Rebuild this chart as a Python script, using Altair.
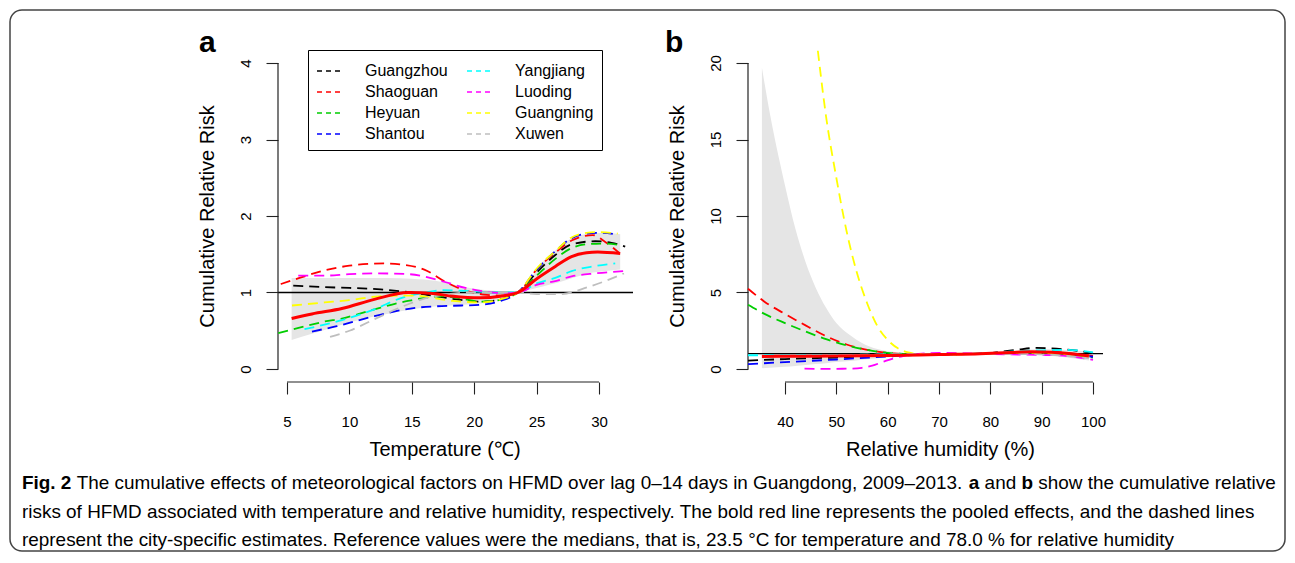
import altair as alt
import pandas as pd

FONT = "Liberation Sans"

CITIES = ["Guangzhou", "Shaoguan", "Heyuan", "Shantou", "Yangjiang", "Luoding", "Guangning", "Xuwen"]
CITY_COLORS = ["#000000", "#FF0000", "#00CD00", "#0000FF", "#00FFFF", "#FF00FF", "#FFFF00", "#BEBEBE"]

# ---------------- panel a : temperature ----------------
TEMP_TICKS = [5, 10, 15, 20, 25, 30]
RR_TICKS_A = [0, 1, 2, 3, 4]

a_guangzhou_t = [5.5, 8, 10, 12.5, 15, 17, 18.6, 20.5, 22.1, 23.5, 25, 26.5, 27.8, 29.7, 31, 32.1]
a_guangzhou_rr = [1.09, 1.07, 1.06, 1.04, 1.0, 0.95, 0.91, 0.88, 0.91, 1.0, 1.26, 1.49, 1.63, 1.67, 1.65, 1.60]
a_shaoguan_t = [4.5, 6, 8, 10, 12.8, 14.5, 16, 17.8, 19.4, 21, 22.5, 23.5, 25, 26.5, 27.8, 29.5, 30.5, 31.6]
a_shaoguan_rr = [1.11, 1.19, 1.29, 1.35, 1.38, 1.36, 1.30, 1.13, 1.02, 0.97, 0.96, 1.0, 1.30, 1.52, 1.68, 1.75, 1.66, 1.52]
a_heyuan_t = [4.3, 6, 8, 9.4, 12, 14.7, 17.4, 19, 20.5, 22, 23.5, 25, 26.5, 27.8, 29, 30.4, 31.7]
a_heyuan_rr = [0.47, 0.54, 0.62, 0.66, 0.78, 0.89, 0.95, 0.92, 0.88, 0.90, 1.0, 1.22, 1.44, 1.58, 1.63, 1.64, 1.62]
a_shantou_t = [7.0, 9, 12, 15.3, 17, 19, 20.5, 22.1, 23.5, 25, 26.5, 27.8, 29, 30, 31.5]
a_shantou_rr = [0.49, 0.56, 0.69, 0.80, 0.82, 0.83, 0.84, 0.89, 1.0, 1.30, 1.54, 1.71, 1.77, 1.78, 1.76]
a_yangjiang_t = [6.4, 8, 9.4, 12, 14.2, 16.1, 17.5, 19.5, 21.5, 23.5, 25, 26.5, 27.8, 29.5, 31.3]
a_yangjiang_rr = [0.52, 0.58, 0.64, 0.78, 0.93, 1.0, 1.03, 1.02, 1.0, 1.0, 1.12, 1.19, 1.28, 1.34, 1.38]
a_luoding_t = [5.9, 8, 10, 12, 14.7, 17.4, 19.3, 21, 22.5, 23.5, 25, 26.5, 27.8, 29.7, 32.0]
a_luoding_rr = [1.22, 1.22, 1.24, 1.25, 1.24, 1.15, 1.06, 1.01, 0.99, 1.0, 1.10, 1.15, 1.21, 1.25, 1.28]
a_guangning_t = [5.4, 8, 10, 12.4, 15, 18.3, 20.5, 22.1, 23.5, 25.1, 26.5, 27.8, 29, 30, 31.5]
a_guangning_rr = [0.83, 0.87, 0.90, 0.95, 0.96, 0.89, 0.87, 0.91, 1.0, 1.33, 1.54, 1.72, 1.78, 1.79, 1.77]
a_xuwen_t = [8.45, 10, 12, 14, 15.8, 17.5, 19.5, 21.5, 23.5, 25, 27, 29.1, 30.5, 32]
a_xuwen_rr = [0.42, 0.50, 0.65, 0.80, 0.91, 0.97, 1.0, 1.0, 1.0, 0.98, 0.98, 1.07, 1.15, 1.25]

a_pooled_t = [5.37, 7, 9.4, 12, 14.7, 16.5, 18.3, 20.5, 22.1, 23.5, 25.1, 26.5, 27.8, 29, 29.9, 31.7]
a_pooled_rr = [0.66, 0.72, 0.79, 0.91, 1.0, 0.99, 0.95, 0.93, 0.95, 1.0, 1.19, 1.34, 1.47, 1.52, 1.53, 1.51]

a_band_t = [5.37, 7, 9, 11, 13, 15, 17, 19, 21, 22.5, 23.5, 24.5, 25.5, 26.5, 27.5, 28.5, 29.5, 30.5, 31.7]
a_band_lo = [0.38, 0.46, 0.56, 0.65, 0.72, 0.78, 0.82, 0.84, 0.87, 0.93, 1.0, 1.04, 1.08, 1.12, 1.17, 1.22, 1.26, 1.28, 1.30]
a_band_hi = [1.19, 1.19, 1.19, 1.19, 1.19, 1.18, 1.15, 1.08, 1.03, 1.01, 1.0, 1.18, 1.40, 1.55, 1.68, 1.75, 1.77, 1.78, 1.76]

# ---------------- panel b : relative humidity ----------------
HUM_TICKS = [40, 50, 60, 70, 80, 90, 100]
RR_TICKS_B = [0, 5, 10, 15, 20]

b_guangzhou_h = [32.8, 40, 50, 60, 70, 78, 85, 89, 94, 100]
b_guangzhou_rr = [0.55, 0.65, 0.75, 0.88, 0.97, 1.0, 1.25, 1.38, 1.3, 1.05]
b_shaoguan_h = [32.8, 36, 40, 44, 48, 52, 56, 60, 65, 70, 78, 85, 90, 95, 100]
b_shaoguan_rr = [5.25, 4.4, 3.6, 2.85, 2.15, 1.6, 1.25, 1.05, 0.97, 0.95, 1.0, 1.12, 1.18, 1.05, 0.85]
b_heyuan_h = [32.8, 36, 40, 44, 48, 52, 56, 60, 65, 70, 78, 85, 90, 95, 100]
b_heyuan_rr = [4.2, 3.6, 3.0, 2.45, 1.95, 1.55, 1.25, 1.05, 0.97, 0.95, 1.0, 1.05, 1.05, 0.95, 0.75]
b_shantou_h = [32.8, 40, 50, 60, 70, 78, 85, 90, 95, 100]
b_shantou_rr = [0.32, 0.45, 0.62, 0.82, 0.97, 1.0, 1.1, 1.12, 1.0, 0.8]
b_yangjiang_h = [32.8, 40, 50, 60, 70, 78, 85, 90, 95, 100]
b_yangjiang_rr = [0.9, 0.9, 0.92, 0.95, 0.98, 1.0, 1.15, 1.22, 1.25, 1.08]
b_luoding_h = [43.8, 48, 52, 55, 57, 59.2, 61, 63, 66, 70, 74, 78, 84, 90, 95, 100]
b_luoding_rr = [0.02, 0.01, 0.02, 0.08, 0.22, 0.48, 0.68, 0.85, 0.98, 1.05, 1.04, 1.0, 0.95, 0.92, 0.85, 0.6]
b_guangning_h = [46.4, 48, 50, 52, 54, 56, 58, 60, 62, 64, 66, 70, 78, 85, 90, 95, 100]
b_guangning_rr = [20.8, 16.5, 12.5, 9.0, 6.3, 4.3, 2.8, 1.9, 1.35, 1.08, 0.98, 0.93, 1.0, 1.05, 1.05, 0.95, 0.8]
b_xuwen_h = [35.6, 50, 60, 70, 78, 85, 90, 95, 99.2]
b_xuwen_rr = [0.85, 0.9, 0.95, 0.98, 1.0, 1.0, 0.95, 0.85, 0.7]

b_pooled_h = [35.5, 40, 50, 60, 70, 78, 84, 88, 92, 96, 99.2]
b_pooled_rr = [0.82, 0.83, 0.85, 0.88, 0.95, 1.0, 1.08, 1.12, 1.1, 0.98, 0.85]

b_band_h = [35.5, 37, 40, 42, 44, 46, 48, 50, 52.7, 55, 58, 62, 66, 70, 78, 85, 90, 95, 99.2]
b_band_lo = [0.05, 0.08, 0.15, 0.2, 0.26, 0.32, 0.38, 0.45, 0.52, 0.6, 0.7, 0.82, 0.9, 0.95, 1.0, 0.95, 0.9, 0.75, 0.55]
b_band_hi = [19.7, 16.8, 12.0, 9.2, 7.0, 5.3, 4.0, 3.0, 2.2, 1.7, 1.3, 1.08, 1.02, 1.02, 1.0, 1.2, 1.3, 1.25, 1.15]

CAPTION = [
    [("Fig. 2", True),
     (" The cumulative effects of meteorological factors on HFMD over lag 0\u201314 days in Guangdong, 2009\u20132013. ", False),
     ("a", True), (" and ", False), ("b", True), (" show the cumulative relative", False)],
    [("risks of HFMD associated with temperature and relative humidity, respectively. The bold red line represents the pooled effects, and the dashed lines", False)],
    [("represent the city-specific estimates. Reference values were the medians, that is, 23.5 \u00b0C for temperature and 78.0 % for relative humidity", False)],
]

# ---------------- layout (pixels inside the 1279x547 canvas) ----------------
W, H = 1279, 547
PA_X = [270, 625]
PB_X = [740, 1095]
P_Y = [374, 42]
XA_DOM = [5 - 9 / 12.48, 5 + 346 / 12.48]
YA_DOM = [-13 / 76.5, 4 + 13 / 76.5]
XB_DOM = [40 - 37 / 5.1333, 100 + 10 / 5.1333]
YB_DOM = [-13 / 15.3, 20 + 13 / 15.3]

sxa = alt.Scale(domain=XA_DOM, range=PA_X, zero=False, nice=False)
sya = alt.Scale(domain=YA_DOM, range=P_Y, zero=False, nice=False)
sxb = alt.Scale(domain=XB_DOM, range=PB_X, zero=False, nice=False)
syb = alt.Scale(domain=YB_DOM, range=P_Y, zero=False, nice=False)

common_axis = dict(domain=False, grid=False, ticks=True, tickSize=12, tickColor="#222222", tickWidth=1.1,
                   labelFont=FONT, labelFontSize=15, labelColor="black", labelFlush=False, labelOverlap=False,
                   titleFont=FONT, titleFontSize=20, titleFontWeight="normal", titleColor="black", format="d")

def x_axis(values, title, title_x):
    return alt.Axis(orient="bottom", offset=-(H - P_Y[0]), values=values, labelPadding=20, labelBaseline="top",
                    title=title, titleX=title_x, titleY=73, titleAlign="center", titleBaseline="alphabetic",
                    **common_axis)

def y_axis(values, x_pos):
    return alt.Axis(orient="left", offset=-x_pos, values=values, labelAngle=-90, labelAlign="center",
                    labelBaseline="alphabetic", labelPadding=16, title="Cumulative Relative Risk",
                    titleX=-65, titleY=(P_Y[0] + P_Y[1]) / 2, titleAngle=-90, titleAlign="center",
                    titleBaseline="alphabetic", **common_axis)

axa_x = x_axis(TEMP_TICKS, "Temperature (\u2103)", 436.5)
axa_y = y_axis(RR_TICKS_A, PA_X[0])
axb_x = x_axis(HUM_TICKS, "Relative humidity (%)", 932)
axb_y = y_axis(RR_TICKS_B, PB_X[0])

color_scale = alt.Scale(domain=CITIES, range=CITY_COLORS)
legend = alt.Legend(orient="none", legendX=300, legendY=42, columns=2, title=None, symbolType="stroke",
                    symbolSize=576, symbolStrokeWidth=1.3, symbolDash=[5, 4], labelFont=FONT, labelFontSize=16,
                    labelColor="black", labelOffset=23, rowPadding=-4, columnPadding=16, padding=8,
                    strokeColor="black", fillColor="white", labelLimit=300)


def build_panel(city_xs, city_ys, pooled_x, pooled_y, band_x, band_lo, band_hi, sx, sy, ax, ay,
                xdom, ydom, xticks, yticks):
    def X(f):
        return alt.X(f, type="quantitative", scale=sx, axis=ax)

    def Y(f):
        return alt.Y(f, type="quantitative", scale=sy, axis=ay)

    rows = []
    for c, xs, ys in zip(CITIES, city_xs, city_ys):
        for k, (xv, yv) in enumerate(zip(xs, ys)):
            rows.append({"city": c, "x": xv, "rr": yv, "k": k})
    df_city = pd.DataFrame(rows)
    df_pool = pd.DataFrame({"x": pooled_x, "rr": pooled_y})
    df_band = pd.DataFrame({"x": band_x, "lo": band_lo, "hi": band_hi})
    df_ref = pd.DataFrame({"x": [xdom[0]], "x2": [xdom[1]], "y": [1]})
    df_vline = pd.DataFrame({"x": [xdom[0]], "y": [yticks[0]], "y2": [yticks[-1]]})
    df_hline = pd.DataFrame({"x": [xticks[0]], "x2": [xticks[-1]], "y": [ydom[0]]})

    band = alt.Chart(df_band).mark_area(color="#E5E5E5", interpolate="monotone").encode(
        x=X("x"), y=Y("lo"), y2="hi")
    vline = alt.Chart(df_vline).mark_rule(color="#222222", strokeWidth=1.2).encode(x=X("x"), y=Y("y"), y2="y2")
    hline = alt.Chart(df_hline).mark_rule(color="#222222", strokeWidth=1.2).encode(x=X("x"), x2="x2", y=Y("y"))
    ref = alt.Chart(df_ref).mark_rule(color="black", strokeWidth=1.3).encode(x=X("x"), x2="x2", y=Y("y"))
    lines = alt.Chart(df_city).mark_line(strokeDash=[10, 6], strokeWidth=1.8, interpolate="monotone").encode(
        x=X("x"), y=Y("rr"),
        color=alt.Color("city:N", scale=color_scale, legend=legend),
        order=alt.Order("k:Q"))
    pooled = alt.Chart(df_pool).mark_line(color="#FF0000", strokeWidth=3, interpolate="monotone").encode(
        x=X("x"), y=Y("rr"))
    return alt.layer(band, ref, vline, hline, lines, pooled)


panel_a = build_panel(
    [a_guangzhou_t, a_shaoguan_t, a_heyuan_t, a_shantou_t, a_yangjiang_t, a_luoding_t, a_guangning_t, a_xuwen_t],
    [a_guangzhou_rr, a_shaoguan_rr, a_heyuan_rr, a_shantou_rr, a_yangjiang_rr, a_luoding_rr, a_guangning_rr, a_xuwen_rr],
    a_pooled_t, a_pooled_rr, a_band_t, a_band_lo, a_band_hi, sxa, sya, axa_x, axa_y,
    XA_DOM, YA_DOM, TEMP_TICKS, RR_TICKS_A)

panel_b = build_panel(
    [b_guangzhou_h, b_shaoguan_h, b_heyuan_h, b_shantou_h, b_yangjiang_h, b_luoding_h, b_guangning_h, b_xuwen_h],
    [b_guangzhou_rr, b_shaoguan_rr, b_heyuan_rr, b_shantou_rr, b_yangjiang_rr, b_luoding_rr, b_guangning_rr, b_xuwen_rr],
    b_pooled_h, b_pooled_rr, b_band_h, b_band_lo, b_band_hi, sxb, syb, axb_x, axb_y,
    XB_DOM, YB_DOM, HUM_TICKS, RR_TICKS_B)

# ---------------- panel letters ----------------
letters = pd.DataFrame({"t": ["a", "b"], "px": [191, 657], "py": [43.7, 43.7]})
letter_layer = alt.Chart(letters).mark_text(font=FONT, fontSize=30, fontWeight="bold", align="left",
                                            baseline="alphabetic", color="black").encode(
    x=alt.X("px:Q", scale=None, axis=None), y=alt.Y("py:Q", scale=None, axis=None), text="t:N")

# ---------------- caption ----------------
_reg = {" ": 278, ",": 278, ".": 278, "-": 333, "%": 889, "\u00b0": 400, "\u2013": 556, "(": 333, ")": 333}
for ch in "0123456789":
    _reg[ch] = 556
_reg.update(dict(zip("ABCDEFGHIJKLMNOPQRSTUVWXYZ",
                     [667, 667, 722, 722, 667, 611, 778, 722, 278, 500, 667, 556, 833, 722, 778, 667, 778, 722,
                      667, 611, 722, 667, 944, 667, 667, 611])))
_reg.update(dict(zip("abcdefghijklmnopqrstuvwxyz",
                     [556, 556, 500, 556, 556, 278, 556, 556, 222, 222, 500, 222, 833, 556, 556, 556, 556, 333,
                      500, 278, 556, 500, 722, 500, 500, 500])))
_bold = dict(_reg)
_bold.update({"F": 611, "i": 278, "g": 611, "a": 556, "b": 611, "2": 556, ".": 278, " ": 278})


def em(s, bold):
    tbl = _bold if bold else _reg
    return sum(tbl.get(ch, 556) for ch in s) / 1000.0


CAP_X0, CAP_X1 = 14, 1268
cap_size = (CAP_X1 - CAP_X0) / sum(em(s, b) for s, b in CAPTION[0])
cap_base = [481, 509.5, 538]
cap_rows = []
for li, segs in enumerate(CAPTION):
    cur = CAP_X0
    for s, b in segs:
        lead = len(s) - len(s.lstrip(" "))
        cap_rows.append({"t": s.strip(" "), "px": cur + em(" " * lead, b) * cap_size, "py": cap_base[li],
                         "w": "bold" if b else "normal"})
        cur += em(s, b) * cap_size
cap_df = pd.DataFrame(cap_rows)
cap_norm = alt.Chart(cap_df[cap_df.w == "normal"]).mark_text(
    font=FONT, fontSize=cap_size, align="left", baseline="alphabetic", color="black").encode(
    x=alt.X("px:Q", scale=None, axis=None), y=alt.Y("py:Q", scale=None, axis=None), text="t:N")
cap_bold = alt.Chart(cap_df[cap_df.w == "bold"]).mark_text(
    font=FONT, fontSize=cap_size, fontWeight="bold", align="left", baseline="alphabetic", color="black").encode(
    x=alt.X("px:Q", scale=None, axis=None), y=alt.Y("py:Q", scale=None, axis=None), text="t:N")

border = alt.Chart(pd.DataFrame({"d": [0]})).mark_rect(
    fillOpacity=0, stroke="#444444", strokeWidth=1.5, cornerRadius=12).encode(
    x=alt.value(2), x2=alt.value(W - 2), y=alt.value(2), y2=alt.value(543))

chart = alt.layer(panel_a, panel_b, letter_layer, cap_norm, cap_bold, border).resolve_scale(
    x="independent", y="independent").resolve_axis(x="independent", y="independent").properties(
    width=W, height=H, autosize=alt.AutoSizeParams(type="none"), padding=0
).configure_view(stroke=None)

chart.save("out.html", embed_options={"renderer": "svg", "actions": False})
